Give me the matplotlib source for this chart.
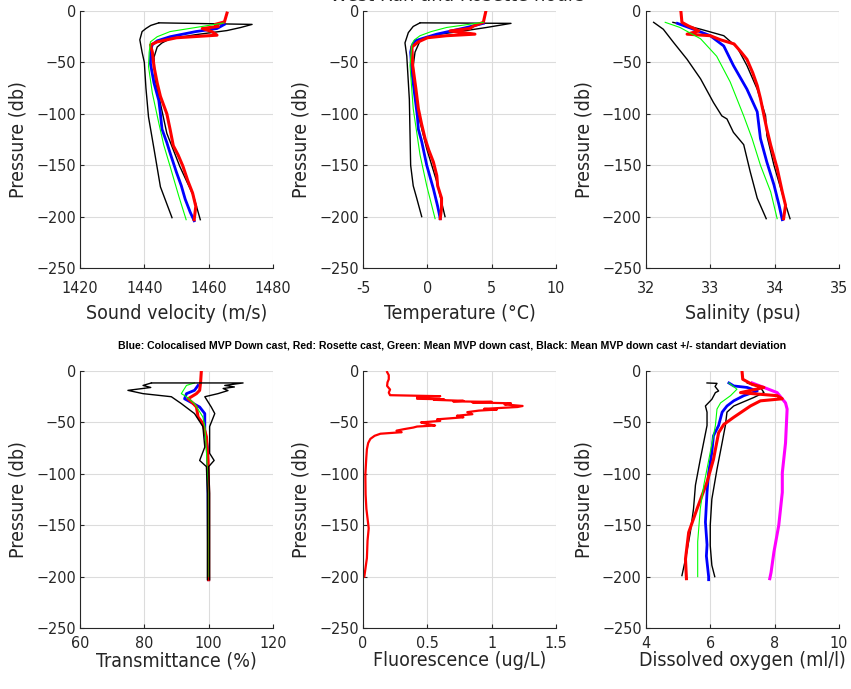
import matplotlib
matplotlib.use("Agg")
import matplotlib.pyplot as plt

# ---- data (pressure in db, negative down) ----
# sound velocity (m/s)
sv_red_p = [-2, -10.6, -13, -15, -17, -20, -23.5, -26, -30, -33, -40, -54, -70, -83, -100, -115, -131, -140, -151, -165, -177, -190, -203]
sv_red = [1465.7, 1464.9, 1462, 1463, 1458, 1461, 1462.6, 1450, 1444, 1441.9, 1442.5, 1443, 1444, 1445, 1447, 1448, 1449, 1450.5, 1452, 1453.5, 1455, 1456, 1455.5]
sv_blue_p = [-13, -17, -20, -25, -29, -33, -40, -51, -70, -87, -100, -115, -128, -138, -157, -170, -183, -196, -204]
sv_blue = [1464.9, 1462.6, 1456, 1448, 1444, 1442.4, 1442, 1441.9, 1443, 1444.5, 1445, 1445.5, 1447, 1448, 1450, 1451.5, 1452.7, 1454.3, 1455.5]
sv_green_p = [-11.6, -15, -20, -25, -30, -40, -54, -80, -109, -130, -151, -180, -203]
sv_green = [1464.7, 1458, 1448, 1444, 1441.9, 1441.5, 1441.3, 1442.5, 1444.5, 1446, 1448, 1450.7, 1453]
sv_hi_p = [-11.5, -13, -16, -19, -23, -27, -31, -35, -45, -67, -90, -119, -151, -180, -203]
sv_hi = [1444.5, 1473.5, 1470, 1465.7, 1456, 1448, 1445.5, 1444, 1443, 1443.4, 1445, 1447, 1451, 1455.3, 1457.4]
sv_lo_p = [-11.5, -14, -17, -20, -28, -40, -50, -75, -103, -134, -171, -201]
sv_lo = [1444.5, 1442, 1440.5, 1439.3, 1438.6, 1439.3, 1440, 1440.5, 1441.3, 1443, 1445, 1448.6]

# temperature (deg C)
t_red_p = [-1, -11, -14.5, -17, -19.4, -22.5, -24, -26, -30, -35, -53, -75, -95, -110, -124, -135, -147, -160, -170, -182, -192, -202]
t_red = [4.53, 4.35, 3.6, 3.3, 1.76, 3.7, 1.5, 0.0, -0.7, -1.2, -1.14, -0.9, -0.7, -0.45, -0.18, 0.1, 0.47, 0.73, 0.8, 1.1, 1.1, 1.0]
t_blue_p = [-12, -16, -19, -22.5, -26, -29, -34, -40, -60, -80, -102, -115, -127, -150, -173, -190, -202]
t_blue = [4.35, 3.06, 2.0, 0.73, -0.2, -0.96, -1.2, -1.3, -1.2, -1.0, -0.78, -0.7, -0.44, -0.05, 0.47, 0.8, 1.0]
t_green_p = [-11, -16, -20, -24, -28, -32, -53, -95, -140, -170, -202]
t_green = [4.35, 1.5, 0.3, -0.57, -1.0, -1.2, -1.35, -1.1, -0.57, -0.05, 0.6]
t_hi_p = [-11.5, -12, -16, -19, -22.5, -26, -29, -40, -53, -80, -95, -134, -166, -200]
t_hi = [-0.57, 6.5, 4.6, 3.0, 1.0, 0.0, -0.57, -0.96, -1.1, -1.0, -0.83, -0.05, 0.73, 1.37]
t_lo_p = [-11.5, -15, -21, -31, -44, -86, -150, -170, -182, -200]
t_lo = [-0.57, -1.1, -1.48, -1.74, -1.6, -1.4, -1.3, -1.1, -0.83, -0.44]

# salinity (psu)
s_red_p = [-1, -11, -14.5, -17, -19.4, -22.5, -24, -28, -32, -40, -47, -60, -72.5, -85, -100, -115, -130.6, -153, -176, -189, -202]
s_red = [32.545, 32.56, 32.66, 32.75, 32.82, 32.64, 33.0, 33.16, 33.37, 33.48, 33.57, 33.66, 33.73, 33.78, 33.83, 33.88, 33.94, 34.04, 34.12, 34.17, 34.14]
s_blue_p = [-12, -17.7, -24, -34, -53, -76, -98, -124, -147, -169, -189, -203]
s_blue = [32.49, 32.74, 33.0, 33.21, 33.36, 33.57, 33.73, 33.78, 33.88, 33.99, 34.07, 34.12]
s_green_p = [-11, -16, -27, -44, -69, -102, -124, -150, -176, -202]
s_green = [32.3, 32.53, 32.85, 33.1, 33.31, 33.52, 33.65, 33.78, 33.94, 34.04]
s_hi_p = [-11, -17.7, -24, -35.5, -53, -76, -102, -121, -150, -182, -202]
s_hi = [32.42, 32.85, 33.21, 33.42, 33.57, 33.73, 33.86, 33.88, 33.99, 34.14, 34.24]
s_lo_p = [-11, -17.7, -30.6, -47, -66, -89, -102, -105, -118, -130, -156, -182, -202]
s_lo = [32.12, 32.27, 32.43, 32.64, 32.85, 33.05, 33.18, 33.26, 33.36, 33.52, 33.62, 33.73, 33.87]

# transmittance (%)
tr_red_p = [-1, -10.7, -18.8, -22, -27, -31, -35, -44.7, -51, -64, -87, -119, -203]
tr_red = [97.7, 97.5, 97.2, 96.2, 93.6, 95, 96.2, 96.7, 98.2, 99.3, 99.8, 100, 100]
tr_blue_p = [-14, -18.8, -22, -27, -35, -41.4, -57.6, -74, -119, -203]
tr_blue = [96.7, 95.6, 93.1, 92.5, 97.2, 98.8, 98.8, 99.6, 99.8, 100]
tr_green_p = [-11.6, -14, -22, -25, -31.7, -44.7, -54, -77, -100, -119, -200]
tr_green = [95.6, 93.1, 91.5, 93.1, 95.6, 98.2, 98.8, 99.3, 99.6, 99.8, 99.8]
tr_hi_p = [-11.6, -11.6, -14, -15.5, -17, -19, -22, -25, -35, -41.4, -54, -80, -87, -93, -119, -203]
tr_hi = [82.2, 110.7, 105, 108, 104.5, 106, 102.9, 98.8, 100.8, 101.9, 100.3, 100.3, 101.7, 100, 100.3, 100.3]
tr_lo_p = [-11.6, -14, -16, -18.8, -22, -25, -31.7, -41.4, -54, -74, -87, -93, -119, -203]
tr_lo = [82.2, 79.6, 82, 74.9, 79.6, 88.4, 91.5, 95.6, 98.2, 98.8, 97.2, 99.3, 99.6, 99.6]

# fluorescence (ug/L), rosette only
fl_red_p = [-1, -4, -8, -11, -14.5, -18, -21, -23.5, -24.5, -25.5, -27, -27.5, -28, -29, -29.5, -30, -30.5,
            -31.4, -32.5, -34, -35, -36.8, -37.5, -38.5, -40, -42, -43.5, -45, -47, -48.5, -50, -51.5, -53,
            -54, -55, -56.5, -58, -59.5, -61, -63, -66, -70, -76, -85, -101, -120, -134, -153, -165, -182, -200]
fl_red = [0.187, 0.2, 0.2, 0.19, 0.187, 0.21, 0.2, 0.21, 0.6, 0.42, 0.42, 0.63, 0.55, 0.78, 0.7, 1.0, 0.85,
          1.15, 1.1, 1.24, 1.2, 0.94, 1.04, 0.9, 0.81, 0.85, 0.73, 0.78, 0.575, 0.6, 0.45, 0.5, 0.56,
          0.42, 0.39, 0.32, 0.26, 0.3, 0.135, 0.09, 0.057, 0.04, 0.03, 0.025, 0.018, 0.02, 0.026, 0.044, 0.035, 0.03, 0.01]

# dissolved oxygen (ml/l)
o_red_p = [-1, -8, -13, -16, -21, -24, -27, -29, -34, -45, -52, -60, -86, -108, -134, -157, -183, -202]
o_red = [6.99, 7.01, 7.3, 7.67, 6.94, 8.08, 8.24, 7.56, 7.25, 6.73, 6.42, 6.26, 6.1, 5.9, 5.59, 5.33, 5.23, 5.26]
o_mag_p = [-11.6, -16, -21, -31, -37, -70, -99, -118, -150, -176, -196, -202]
o_mag = [7.3, 7.67, 8.08, 8.34, 8.39, 8.34, 8.24, 8.24, 8.13, 7.98, 7.89, 7.85]
o_blue_p = [-11.6, -14.5, -16, -19.4, -24, -29, -34, -40, -53, -63, -79, -99, -118, -147, -169, -180, -200, -203]
o_blue = [6.58, 6.73, 7.15, 7.46, 7.04, 6.73, 6.52, 6.37, 6.26, 6.1, 6.05, 5.95, 5.9, 5.85, 5.9, 5.88, 5.95, 5.95]
o_green_p = [-11.6, -17.7, -24, -31, -37, -53, -79, -111, -134, -166, -200]
o_green = [6.58, 6.83, 6.63, 6.32, 6.21, 6.16, 6.0, 5.8, 5.69, 5.61, 5.61]
o_hi_p = [-11.6, -16, -21, -25.8, -34, -40, -53, -69.6, -95.5, -124.6, -150, -170, -189, -200]
o_hi = [7.15, 7.56, 7.67, 7.35, 6.73, 6.52, 6.47, 6.37, 6.21, 6.05, 6.0, 6.0, 6.05, 6.14]
o_lo_p = [-11.6, -12, -15, -19.4, -21, -27.5, -34, -40, -53, -86, -111, -134, -157, -183, -199]
o_lo = [5.9, 6.21, 6.15, 6.26, 6.16, 6.05, 5.85, 5.9, 5.9, 5.69, 5.54, 5.48, 5.38, 5.23, 5.12]

xlabels = ["Sound velocity (m/s)", "Temperature (°C)", "Salinity (psu)",
           "Transmittance (%)", "Fluorescence (ug/L)", "Dissolved oxygen (ml/l)"]
xlims = [(1420, 1480), (-5, 10), (32, 35), (60, 120), (0, 1.5), (4, 10)]
xticks = [[1420, 1440, 1460, 1480], [-5, 0, 5, 10], [32, 33, 34, 35],
          [60, 80, 100, 120], [0, 0.5, 1, 1.5], [4, 6, 8, 10]]
yticks = [0, -50, -100, -150, -200, -250]

# narrow face for axis text, like the MATLAB export
plt.rcParams["font.family"] = ["Liberation Sans Narrow", "DejaVu Sans Condensed", "DejaVu Sans"]
plt.rcParams["font.stretch"] = "condensed"

fig = plt.figure(figsize=(8.51, 6.89), dpi=100)

lefts = [0.094, 0.4266, 0.759]
bottoms = [0.611, 0.0885]
W, H = 0.2268, 0.373
axes = []
for r in range(2):
    for c in range(3):
        axes.append(fig.add_axes([lefts[c], bottoms[r], W, H]))

dark = "#262626"
for i, (ax, lab, xl, xt) in enumerate(zip(axes, xlabels, xlims, xticks)):
    top_row = i < 3
    ax.set_xlim(*xl)
    ax.set_ylim(-250, 0)
    ax.set_xticks(xt)
    ax.set_yticks(yticks)
    ax.set_xticklabels([f"{v:g}" for v in xt])
    ax.grid(True, color="#dcdcdc", linewidth=0.8)
    ax.set_axisbelow(True)
    for s in ("top", "right"):
        ax.spines[s].set_visible(False)
    for s in ("left", "bottom"):
        ax.spines[s].set_color(dark)
        ax.spines[s].set_linewidth(0.8)
    ax.tick_params(direction="in", length=3, width=0.8, colors=dark,
                   labelsize=11.5, labelcolor=dark)
    ax.tick_params(axis="x", pad=9 if top_row else 6)
    ax.tick_params(axis="y", pad=3)
    ax.set_xlabel(lab, fontsize=14, color=dark, labelpad=6 if top_row else 0)
    ax.set_ylabel("Pressure (db)", fontsize=14, color=dark, labelpad=6)

lw_k, lw_g, lw_b, lw_r = 1.0, 0.8, 2.0, 2.2


def profile(ax, hi, lo, green, blue, red, black_top=False):
    zk = 3 if black_top else 2
    ax.plot(hi[1], hi[0], color="k", lw=lw_k, zorder=zk)
    ax.plot(lo[1], lo[0], color="k", lw=lw_k, zorder=zk)
    ax.plot(green[1], green[0], color="#00ff00", lw=lw_g, zorder=2.5)
    ax.plot(blue[1], blue[0], color="#0000ff", lw=lw_b, zorder=2.2)
    ax.plot(red[1], red[0], color="#ff0000", lw=lw_r, zorder=2.4)


profile(axes[0], (sv_hi_p, sv_hi), (sv_lo_p, sv_lo), (sv_green_p, sv_green),
        (sv_blue_p, sv_blue), (sv_red_p, sv_red))
profile(axes[1], (t_hi_p, t_hi), (t_lo_p, t_lo), (t_green_p, t_green),
        (t_blue_p, t_blue), (t_red_p, t_red))
profile(axes[2], (s_hi_p, s_hi), (s_lo_p, s_lo), (s_green_p, s_green),
        (s_blue_p, s_blue), (s_red_p, s_red))
profile(axes[3], (tr_hi_p, tr_hi), (tr_lo_p, tr_lo), (tr_green_p, tr_green),
        (tr_blue_p, tr_blue), (tr_red_p, tr_red), black_top=True)
axes[4].plot(fl_red, fl_red_p, color="#ff0000", lw=1.6)
profile(axes[5], (o_hi_p, o_hi), (o_lo_p, o_lo), (o_green_p, o_green),
        (o_blue_p, o_blue), (o_red_p, o_red))
axes[5].plot(o_mag, o_mag_p, color="#ff00ff", lw=lw_r, zorder=2.3)

# title sits mostly above the canvas, as in the reference
fig.text(0.538, 0.9982, "West Run and Rosette hours", ha="center", va="baseline",
         fontsize=14.5, color=dark)
fig.text(0.531, 0.498,
         "Blue: Colocalised MVP Down cast, Red: Rosette cast, Green: Mean MVP down cast, "
         "Black: Mean MVP down cast +/- standart deviation",
         ha="center", va="center", fontsize=7.6, fontweight="bold",
         family=["Liberation Sans", "DejaVu Sans"], fontstretch="normal")

fig.savefig("out.png", dpi=100)
